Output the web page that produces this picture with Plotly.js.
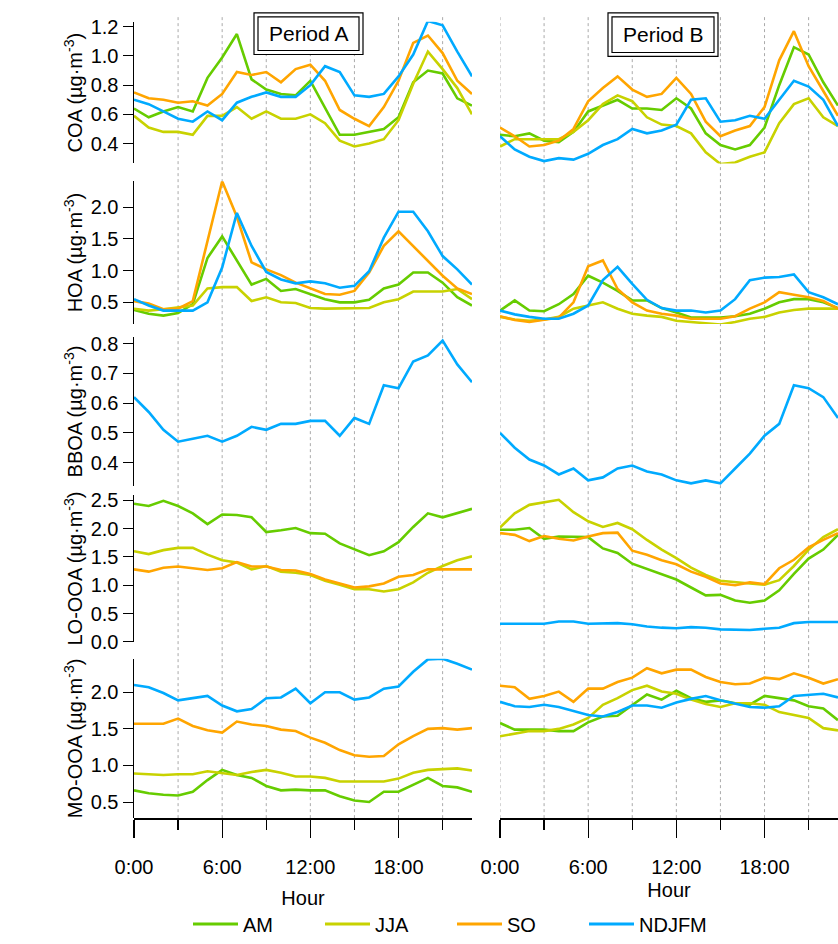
<!DOCTYPE html>
<html>
<head>
<meta charset="utf-8">
<script src="https://cdn.plot.ly/plotly-3.0.1.min.js"></script>
<style>body{margin:0}#chart{width:838px;height:944px}</style>
</head>
<body>
<div id="chart"></div>
<script>
const HOURS = Array.from({ length: 24 }, (_, i) => i);
const SEASONS = ["AM", "JJA", "SO", "NDJFM"];
const COLORS = ["#66cc00", "#c8d200", "#ffa500", "#00aaff"];
const TICK_VALS = [0, 6, 12, 18];
const TICK_TEXT = ["0:00", "6:00", "12:00", "18:00"];
const GRID_HOURS = [0, 3, 6, 9, 12, 15, 18, 21];
const PANELS = ["COA", "HOA", "BBOA", "LO-OOA", "MO-OOA"];

// Period A, [AM, JJA, SO, NDJFM], null = not shown
const coaA = [
  [0.64,0.58,0.62,0.65,0.62,0.85,0.99,1.15,0.84,0.77,0.74,0.73,0.83,0.64,0.46,0.46,0.48,0.5,0.58,0.82,0.9,0.88,0.71,0.66],
  [0.59,0.51,0.48,0.48,0.46,0.59,0.59,0.65,0.57,0.62,0.57,0.57,0.6,0.54,0.42,0.38,0.4,0.43,0.56,0.81,1.03,0.91,0.78,0.6],
  [0.75,0.71,0.7,0.68,0.69,0.66,0.74,0.89,0.87,0.89,0.82,0.91,0.94,0.83,0.63,0.57,0.52,0.65,0.83,1.09,1.14,1.02,0.83,0.74],
  [0.7,0.67,0.62,0.57,0.55,0.62,0.56,0.68,0.72,0.75,0.72,0.72,0.8,0.93,0.89,0.73,0.72,0.74,0.86,1.01,1.24,1.21,1.03,0.86],
];
const hoaA = [
  [0.38,0.32,0.29,0.33,0.47,1.2,1.54,1.15,0.78,0.87,0.68,0.71,0.63,0.55,0.5,0.5,0.54,0.72,0.78,0.97,0.97,0.81,0.58,0.45],
  [0.4,0.37,0.39,0.42,0.45,0.72,0.74,0.74,0.52,0.58,0.5,0.49,0.41,0.4,0.4,0.4,0.41,0.5,0.55,0.67,0.67,0.67,0.71,0.55],
  [0.52,0.48,0.39,0.4,0.52,1.46,2.41,1.85,1.13,1.02,0.93,0.81,0.72,0.63,0.62,0.68,0.97,1.39,1.62,1.39,1.15,0.92,0.72,0.63],
  [0.55,0.45,0.37,0.37,0.37,0.5,1.05,1.91,1.39,0.98,0.86,0.8,0.83,0.8,0.73,0.76,0.99,1.52,1.93,1.93,1.62,1.23,1.02,0.78],
];
const bboaA = [null, null, null,
  [0.62,0.57,0.51,0.47,0.48,0.49,0.47,0.49,0.52,0.51,0.53,0.53,0.54,0.54,0.49,0.55,0.53,0.66,0.65,0.74,0.76,0.81,0.73,0.67],
];
const looaA = [
  [2.44,2.4,2.49,2.4,2.27,2.08,2.25,2.24,2.2,1.94,1.97,2.01,1.92,1.91,1.74,1.63,1.53,1.6,1.76,2.03,2.27,2.2,2.28,2.35],
  [1.6,1.55,1.62,1.66,1.66,1.54,1.44,1.4,1.28,1.34,1.24,1.22,1.18,1.08,1.01,0.93,0.93,0.89,0.93,1.05,1.22,1.34,1.44,1.51],
  [1.28,1.24,1.31,1.33,1.3,1.27,1.3,1.41,1.33,1.33,1.27,1.26,1.2,1.1,1.03,0.96,0.98,1.03,1.15,1.18,1.28,1.28,1.27,1.28],
  null,
];
const moooaA = [
  [0.66,0.62,0.6,0.59,0.64,0.8,0.94,0.87,0.83,0.72,0.66,0.67,0.66,0.66,0.58,0.52,0.5,0.64,0.64,0.73,0.83,0.72,0.7,0.64],
  [0.89,0.88,0.87,0.88,0.88,0.92,0.9,0.87,0.91,0.94,0.9,0.85,0.85,0.83,0.78,0.78,0.79,0.78,0.82,0.9,0.94,0.95,0.96,0.93],
  [1.57,1.57,1.57,1.64,1.54,1.48,1.45,1.6,1.56,1.54,1.49,1.47,1.38,1.31,1.21,1.14,1.12,1.13,1.29,1.4,1.5,1.51,1.49,1.51],
  [2.1,2.07,1.99,1.89,1.92,1.95,1.82,1.74,1.77,1.92,1.93,2.05,1.85,2.0,2.0,1.9,1.93,2.05,2.08,2.28,2.45,2.46,2.39,2.31],
];

// Period B
const coaB = [
  [0.46,0.45,0.47,0.42,0.41,0.48,0.62,0.66,0.7,0.64,0.64,0.63,0.71,0.64,0.47,0.39,0.36,0.39,0.51,0.8,1.06,1.01,0.82,0.66],
  [0.38,0.43,0.43,0.43,0.43,0.48,0.56,0.67,0.73,0.69,0.58,0.53,0.52,0.47,0.34,0.26,0.27,0.31,0.34,0.54,0.67,0.71,0.58,0.52],
  [0.51,0.45,0.38,0.39,0.42,0.5,0.69,0.78,0.86,0.77,0.72,0.74,0.85,0.74,0.55,0.45,0.49,0.52,0.65,0.97,1.17,0.93,0.76,0.59],
  [0.45,0.36,0.31,0.28,0.3,0.29,0.33,0.39,0.43,0.5,0.47,0.49,0.53,0.7,0.71,0.55,0.56,0.59,0.57,0.7,0.83,0.79,0.7,0.52],
];
const hoaB = [
  [0.37,0.53,0.37,0.36,0.47,0.63,0.92,0.81,0.68,0.53,0.53,0.41,0.34,0.26,0.26,0.26,0.28,0.32,0.4,0.5,0.55,0.55,0.5,0.41],
  [0.27,0.23,0.21,0.23,0.27,0.4,0.45,0.5,0.4,0.32,0.29,0.27,0.21,0.19,0.17,0.15,0.19,0.24,0.27,0.34,0.38,0.4,0.4,0.4],
  [0.28,0.22,0.19,0.23,0.26,0.5,1.07,1.16,0.71,0.5,0.37,0.32,0.29,0.24,0.24,0.24,0.28,0.4,0.5,0.66,0.62,0.58,0.52,0.4],
  [0.37,0.31,0.27,0.24,0.24,0.32,0.45,0.85,1.06,0.79,0.54,0.41,0.37,0.37,0.34,0.37,0.55,0.85,0.89,0.9,0.94,0.66,0.58,0.47],
];
const bboaB = [null, null, null,
  [0.5,0.45,0.41,0.39,0.36,0.38,0.34,0.35,0.38,0.39,0.37,0.36,0.34,0.33,0.34,0.33,0.38,0.43,0.49,0.53,0.66,0.65,0.62,0.55],
];
const looaB = [
  [1.98,1.98,2.01,1.82,1.86,1.85,1.85,1.65,1.57,1.38,1.29,1.2,1.1,0.96,0.82,0.83,0.73,0.69,0.73,0.91,1.2,1.47,1.63,1.89],
  [2.02,2.27,2.42,2.47,2.51,2.29,2.13,2.03,2.1,1.99,1.8,1.63,1.48,1.31,1.18,1.08,1.05,1.03,1.01,1.09,1.34,1.63,1.85,1.99],
  [1.92,1.89,1.78,1.87,1.82,1.79,1.86,1.92,1.93,1.61,1.54,1.44,1.37,1.24,1.15,1.03,1.0,1.05,1.02,1.3,1.45,1.67,1.8,1.92],
  [0.32,0.32,0.33,0.32,0.36,0.36,0.32,0.32,0.33,0.31,0.27,0.25,0.24,0.26,0.25,0.22,0.22,0.21,0.23,0.25,0.33,0.35,0.35,0.35],
];
const moooaB = [
  [1.58,1.49,1.49,1.49,1.47,1.47,1.59,1.67,1.68,1.83,1.97,1.9,2.02,1.92,1.87,1.89,1.85,1.83,1.95,1.92,1.89,1.81,1.78,1.62],
  [1.4,1.44,1.47,1.47,1.5,1.56,1.65,1.83,1.92,2.03,2.09,2.01,1.98,1.9,1.84,1.8,1.85,1.85,1.83,1.73,1.69,1.65,1.51,1.48],
  [2.09,2.07,1.91,1.95,2.01,1.87,2.05,2.05,2.14,2.2,2.33,2.26,2.31,2.31,2.21,2.14,2.11,2.12,2.2,2.18,2.26,2.2,2.12,2.18],
  [1.87,1.81,1.8,1.83,1.8,1.75,1.69,1.67,1.73,1.82,1.82,1.79,1.86,1.91,1.95,1.89,1.85,1.8,1.79,1.81,1.95,1.97,1.98,1.93],
];

const W = 838, H = 944;
const px = (v) => v / W;
const py = (v) => 1 - v / H;

const rows = [
  { top: 22, bot: 165, range: [0.264, 1.234], dtick: 0.2, a: coaA, b: coaB },
  { top: 183, bot: 327, range: [0.16, 2.41], dtick: 0.5, a: hoaA, b: hoaB },
  { top: 340, bot: 491, range: [0.32, 0.823], dtick: 0.1, a: bboaA, b: bboaB },
  { top: 500, bot: 648, range: [0, 2.59], dtick: 0.5, a: looaA, b: looaB },
  { top: 665, bot: 826, range: [0.28, 2.46], dtick: 0.5, a: moooaA, b: moooaB },
];

const font = { family: "Liberation Sans, Arial, sans-serif", size: 20, color: "#000" };
const traces = [];
const layout = {
  width: W, height: H,
  margin: { l: 0, r: 0, t: 0, b: 0 },
  paper_bgcolor: "white", plot_bgcolor: "rgba(0,0,0,0)",
  font,
  showlegend: true,
  legend: {
    orientation: "h", x: px(188), xanchor: "left", y: py(933), yanchor: "middle",
    font, entrywidth: 72, entrywidthmode: "pixels", itemwidth: 45, bgcolor: "rgba(0,0,0,0)",
  },
  shapes: [], annotations: [],
};

const xCommon = {
  range: [0, 23], showgrid: false, zeroline: false, showline: true, linecolor: "#000", linewidth: 1.5,
  tickmode: "array", tickvals: TICK_VALS, ticktext: TICK_TEXT, ticks: "outside", ticklen: 18,
  tickcolor: "#000", tickwidth: 1.2, tickfont: font, ticklabelstandoff: 12,
  minor: { tickvals: [3, 9, 15, 21], ticks: "outside", ticklen: 10, tickcolor: "#000", tickwidth: 1.2, showgrid: false },
  anchor: "free", position: py(826),
};
layout.xaxis = { ...xCommon, domain: [px(134), px(472)], title: { text: "Hour", font, standoff: 14 } };
layout.xaxis2 = { ...xCommon, domain: [px(500), 1], title: { text: "Hour", font, standoff: 6 } };

rows.forEach((row, i) => {
  const key = i === 0 ? "yaxis" : `yaxis${i + 1}`;
  layout[key] = {
    domain: [py(row.bot), py(row.top)], range: row.range, dtick: row.dtick, tick0: 0,
    anchor: "x", showgrid: false, zeroline: false, showline: true, linecolor: "#000", linewidth: 1.5,
    ticks: "outside", ticklen: 10, tickcolor: "#000", tickfont: font, tickformat: ".1f",
    title: { text: `${PANELS[i]} (µg·m<sup>-3</sup>)`, font, standoff: 2 },
  };
  const yref = i === 0 ? "y" : `y${i + 1}`;
  [["x", row.a], ["x2", row.b]].forEach(([xa, sets]) => {
    sets.forEach((vals, s) => {
      if (!vals) return;
      traces.push({
        x: HOURS, y: vals, xaxis: xa, yaxis: yref, type: "scatter", mode: "lines",
        line: { color: COLORS[s], width: 2.6 }, name: SEASONS[s], showlegend: false,
      });
    });
  });
});

SEASONS.forEach((s, k) => traces.push({
  x: [null], y: [null], xaxis: "x", yaxis: "y", type: "scatter", mode: "lines",
  line: { color: COLORS[k], width: 3 }, name: s, showlegend: true,
}));

["x", "x2"].forEach((xa) => {
  GRID_HOURS.forEach((h) => {
    if (xa === "x" && h === 0) return;
    layout.shapes.push({
      type: "line", xref: xa, yref: "paper", x0: h, x1: h, y0: py(826), y1: py(15),
      line: { color: "#aaa", width: 1, dash: "dot" }, layer: "below",
    });
  });
});

[["Period A", 254, 363, 13, 55], ["Period B", 608, 718, 13, 57]].forEach(([t, x0, x1, y0, y1]) => {
  layout.shapes.push({ type: "rect", xref: "paper", yref: "paper", x0: px(x0), x1: px(x1), y0: py(y1), y1: py(y0),
    line: { color: "#000", width: 1.2 }, fillcolor: "white", layer: "below" });
  layout.shapes.push({ type: "rect", xref: "paper", yref: "paper", x0: px(x0 + 4), x1: px(x1 - 4), y0: py(y1 - 4), y1: py(y0 + 4),
    line: { color: "#000", width: 1.2 } });
  layout.annotations.push({ text: t, xref: "paper", yref: "paper", x: px((x0 + x1) / 2), y: py((y0 + y1) / 2),
    showarrow: false, font: { ...font, size: 21 }, xanchor: "center", yanchor: "middle" });
});

Plotly.newPlot("chart", traces, layout, { displayModeBar: false, staticPlot: true });
</script>
</body>
</html>
